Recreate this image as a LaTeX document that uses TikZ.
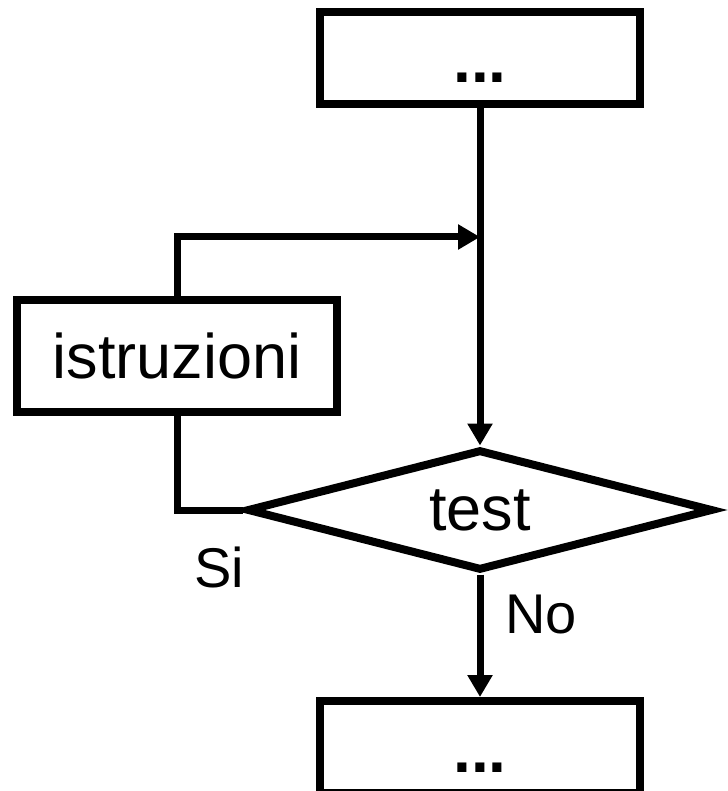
\documentclass[tikz,border=0pt]{standalone}
\usepackage{fontspec}
\setmainfont{Liberation Sans}
\usetikzlibrary{shapes.geometric,arrows.meta}

\begin{document}
\begin{tikzpicture}[x=1pt, y=-1pt,
  box/.style={draw, line width=8pt, minimum width=320pt, inner sep=0pt},
  dotsbox/.style={box, minimum height=92pt, text height=50pt, text depth=0pt, font=\fontsize{64}{76}\selectfont\bfseries},
  link/.style={line width=7pt},
  flow/.style={link, -{Triangle[length=22pt, width=24pt]}},
  lbl/.style={font=\fontsize{56}{66}\selectfont, inner sep=0pt}]
\useasboundingbox (0,0) rectangle (727,791);

\node[dotsbox] (start) at (480,58) {...};
\node[box, minimum height=112pt, font=\fontsize{63}{75}\selectfont] (body) at (177,356) {istruzioni};
\node[draw, diamond, shape aspect=3.8, line width=8pt, minimum width=466pt, minimum height=121pt, inner sep=0pt, font=\fontsize{63}{75}\selectfont] (test) at (480,510) {test};
\node[dotsbox] (next) at (480,747) {...};
\coordinate (merge) at (480,237);

\draw[flow] (start) -- (test);
\draw[flow] (body.north) |- (merge);
\draw[link] (body.south) |- (test.west);
\draw[flow] (test) -- (next);

\node[lbl] (si) at (219,567) {Si};
\node[lbl] (no) at (541,615) {No};
\end{tikzpicture}
\end{document}
